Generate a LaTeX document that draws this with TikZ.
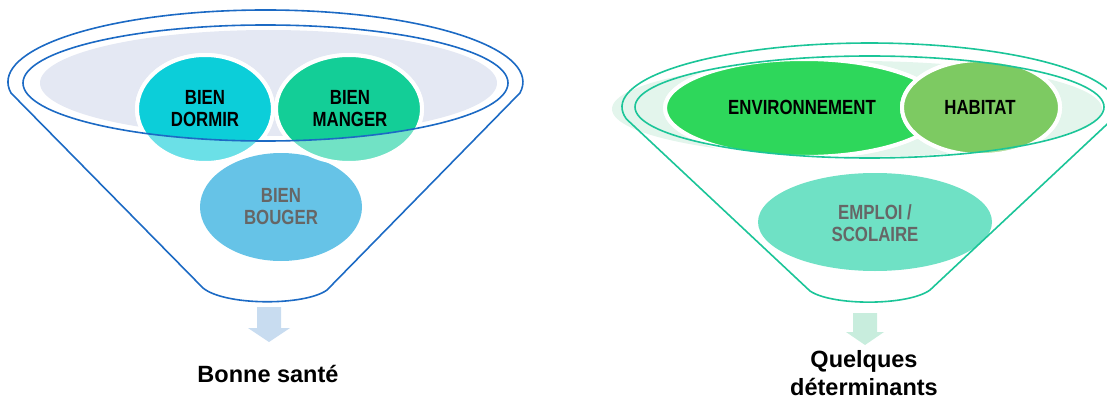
\documentclass[tikz,border=0pt]{standalone}
\usepackage{fontspec}
\setmainfont{Liberation Sans}
\newfontfamily\narrowfont[FakeStretch=0.82]{Liberation Sans}

\definecolor{lineblue}{HTML}{1C6AC4}
\definecolor{fillgray}{HTML}{E4E8F3}
\definecolor{dormir}{HTML}{0CCED9}
\definecolor{dormirfade}{HTML}{6BE0E7}
\definecolor{manger}{HTML}{13CE97}
\definecolor{mangerfade}{HTML}{71E2C5}
\definecolor{bouger}{HTML}{66C3E7}
\definecolor{linegreen}{HTML}{1BC598}
\definecolor{palegreen}{HTML}{E3F5EC}
\definecolor{env}{HTML}{2ED75B}
\definecolor{envfade}{HTML}{8FE9A6}
\definecolor{habitat}{HTML}{7DCA62}
\definecolor{habitatfade}{HTML}{B4DE9F}
\definecolor{emploi}{HTML}{6FE1C5}
\definecolor{arrowblue}{HTML}{C8DCF0}
\definecolor{arrowgreen}{HTML}{C8EDDD}
\definecolor{textgray}{HTML}{666666}

\begin{document}
\begin{tikzpicture}[x=1pt,y=-1pt,
  outline/.style={line width=1.6pt, line join=round},
  bubble/.style={line width=4pt, draw=white},
  lbl/.style={font=\narrowfont\bfseries\fontsize{20.5}{22.5}\selectfont, align=center, inner sep=0pt},
  caption/.style={font=\bfseries\fontsize{23.5}{28.5}\selectfont, align=center, inner sep=0pt}]

\clip (0,0) rectangle (1107,401);

% ---------- left funnel ----------
\fill[fillgray] (268.5,83) ellipse [x radius=228.5pt, y radius=53pt];
\fill[bouger] (281,207) ellipse [x radius=81pt, y radius=54pt];

\filldraw[bubble, fill=dormirfade] (205,109) ellipse [x radius=68pt, y radius=54pt];
\begin{scope}
  \clip (265.5,83) ellipse [x radius=242.5pt, y radius=58pt];
  \filldraw[bubble, fill=dormir] (205,109) ellipse [x radius=68pt, y radius=54pt];
\end{scope}

\filldraw[bubble, fill=mangerfade] (349,109) ellipse [x radius=73pt, y radius=54pt];
\begin{scope}
  \clip (265.5,83) ellipse [x radius=242.5pt, y radius=58pt];
  \filldraw[bubble, fill=manger] (349,109) ellipse [x radius=73pt, y radius=54pt];
\end{scope}

\draw[outline, lineblue] (265.5,83) ellipse [x radius=242.5pt, y radius=58pt];
\draw[outline, lineblue] (11,93)
  arc[start angle=188.8, end angle=-8.8, x radius=257.5pt, y radius=72pt]
  -- (327,290) .. controls (305,306) and (225,306) .. (203,288) -- cycle;

\fill[arrowblue] (257,307) -- (281,307) -- (281,328) -- (290,328) -- (269,342)
  -- (248,328) -- (257,328) -- cycle;

\node[lbl, anchor=north] (dormirtxt) at (205,90) {BIEN\\DORMIR};
\node[lbl, anchor=north] (mangertxt) at (350,90) {BIEN\\MANGER};
\node[lbl, anchor=north, text=textgray] (bougertxt) at (281,188) {BIEN\\BOUGER};
\node[caption, anchor=base] (sante) at (268,382) {Bonne santé};

% ---------- right funnel ----------
\fill[palegreen] (857,109) ellipse [x radius=245pt, y radius=48pt];
\fill[emploi] (875,222) ellipse [x radius=117pt, y radius=49pt];

\filldraw[bubble, fill=envfade] (804,108) ellipse [x radius=139pt, y radius=49pt];
\begin{scope}
  \clip (869.5,107) ellipse [x radius=234.5pt, y radius=51pt];
  \filldraw[bubble, fill=env] (804,108) ellipse [x radius=139pt, y radius=49pt];
\end{scope}

\filldraw[bubble, fill=habitatfade] (981,107.5) ellipse [x radius=79pt, y radius=47.5pt];
\begin{scope}
  \clip (869.5,107) ellipse [x radius=234.5pt, y radius=51pt];
  \filldraw[bubble, fill=habitat] (981,107.5) ellipse [x radius=79pt, y radius=47.5pt];
\end{scope}

\draw[outline, linegreen] (869.5,107) ellipse [x radius=234.5pt, y radius=51pt];
\draw[outline, linegreen] (626.4,119)
  arc[start angle=190.8, end angle=-10.8, x radius=247.5pt, y radius=64pt]
  -- (930,290) .. controls (908,306) and (832,306) .. (810,291) -- cycle;

\fill[arrowgreen] (853,313) -- (877,313) -- (877,332) -- (884,332) -- (865,345)
  -- (846,332) -- (853,332) -- cycle;

\node[lbl] (envtxt) at (802,107.5) {ENVIRONNEMENT};
\node[lbl] (habitattxt) at (980,107.5) {HABITAT};
\node[lbl, anchor=north, text=textgray] (emploitxt) at (875,204) {EMPLOI /\\SCOLAIRE};
\node[caption, anchor=north] (determinants) at (864,350) {Quelques\\déterminants};

\end{tikzpicture}
\end{document}
